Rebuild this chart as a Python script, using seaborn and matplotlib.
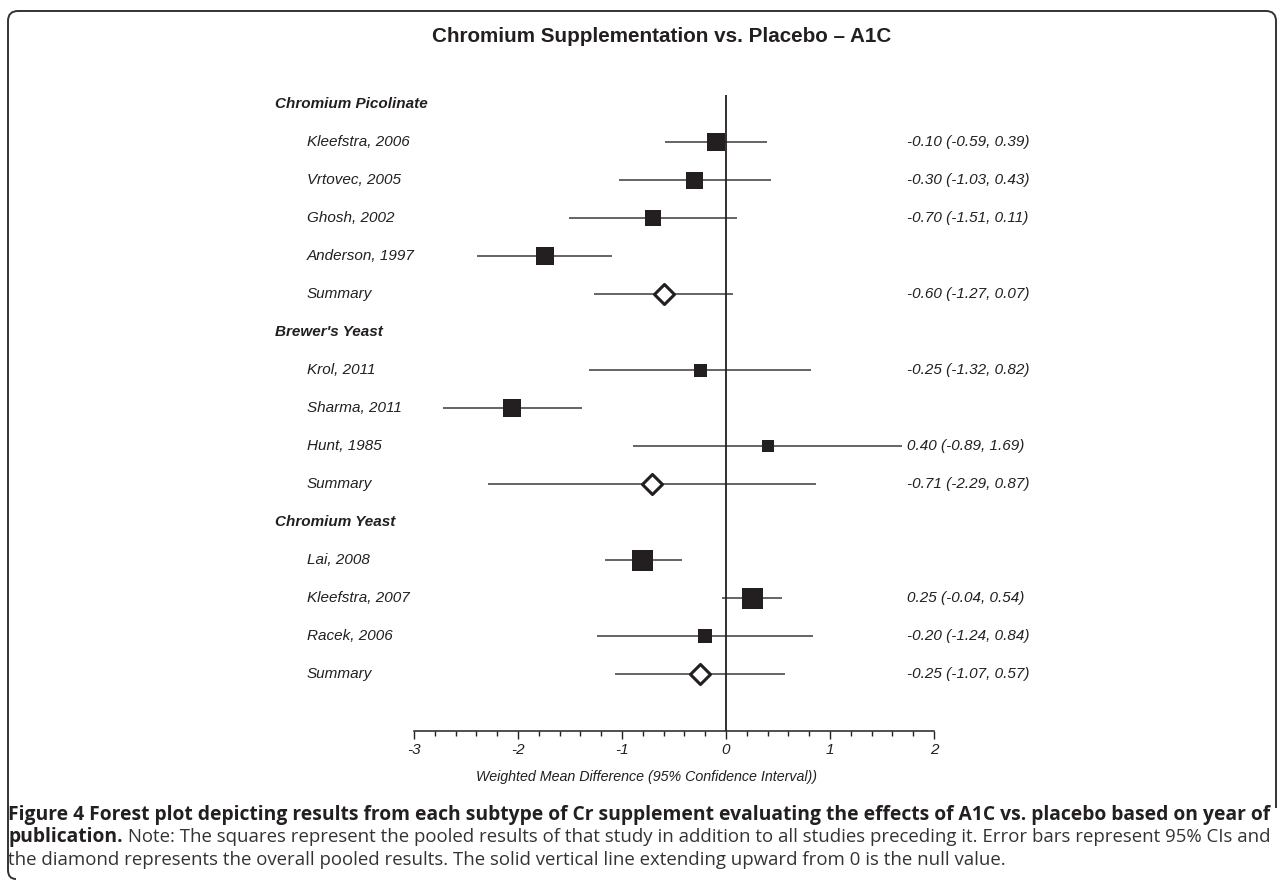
import numpy as np
import pandas as pd
import seaborn as sns
import matplotlib.pyplot as plt
from matplotlib import transforms
from matplotlib.path import Path
from matplotlib.patches import PathPatch
from matplotlib.ticker import MultipleLocator

# rows of the forest plot, top to bottom
row_labels = ["Chromium Picolinate", "Kleefstra, 2006", "Vrtovec, 2005", "Ghosh, 2002",
              "Anderson, 1997", "Summary", "Brewer's Yeast", "Krol, 2011", "Sharma, 2011",
              "Hunt, 1985", "Summary", "Chromium Yeast", "Lai, 2008", "Kleefstra, 2007",
              "Racek, 2006", "Summary"]
row_kind = ["group", "study", "study", "study", "study", "summary", "group", "study", "study",
            "study", "summary", "group", "study", "study", "study", "summary"]
estimate = [np.nan, -0.10, -0.30, -0.70, -1.74, -0.60, np.nan, -0.25, -2.06, 0.40, -0.71,
            np.nan, -0.80, 0.25, -0.20, -0.25]
ci_low = [np.nan, -0.59, -1.03, -1.51, -2.39, -1.27, np.nan, -1.32, -2.72, -0.89, -2.29,
          np.nan, -1.16, -0.04, -1.24, -1.07]
ci_high = [np.nan, 0.39, 0.43, 0.11, -1.10, 0.07, np.nan, 0.82, -1.38, 1.69, 0.87,
           np.nan, -0.42, 0.54, 0.84, 0.57]
# relative study weight (square side)
weight = [np.nan, 18, 17, 16, 18, np.nan, np.nan, 13, 18, 12, np.nan, np.nan, 21, 21, 14, np.nan]
value_text = ["", "-0.10 (-0.59, 0.39)", "-0.30 (-1.03, 0.43)", "-0.70 (-1.51, 0.11)", "",
              "-0.60 (-1.27, 0.07)", "", "-0.25 (-1.32, 0.82)", "", "0.40 (-0.89, 1.69)",
              "-0.71 (-2.29, 0.87)", "", "", "0.25 (-0.04, 0.54)", "-0.20 (-1.24, 0.84)",
              "-0.25 (-1.07, 0.57)"]

title = "Chromium Supplementation vs. Placebo \u2013 A1C"
x_label = "Weighted Mean Difference (95% Confidence Interval))"
cap_bold1 = ("Figure 4 Forest plot depicting results from each subtype of Cr supplement "
             "evaluating the effects of A1C vs. placebo based on year of")
cap_bold2 = "publication."
cap_rest2 = (" Note: The squares represent the pooled results of that study in addition to all "
             "studies preceding it. Error bars represent 95% CIs and")
cap_line3 = ("the diamond represents the overall pooled results. The solid vertical line "
             "extending upward from 0 is the null value.")

sns.set_theme(style="white")
plt.rcParams['font.family'] = ['Liberation Sans', 'DejaVu Sans']

W, H = 1281, 881
ink = '#231f20'
fig = plt.figure(figsize=(W / 100, H / 100), dpi=100)
ax = fig.add_axes([414 / W, 1 - 731 / H, 520 / W, (731 - 95) / H])

df = pd.DataFrame(dict(label=row_labels, kind=row_kind, est=estimate, lo=ci_low, hi=ci_high,
                       weight=weight, text=value_text))
df['row'] = np.arange(len(df))

ci = df.dropna(subset=['lo'])
ax.hlines(ci['row'], ci['lo'], ci['hi'], color='#3a3a3a', lw=1.1, zorder=1)
ax.axvline(0, color=ink, lw=1.3, zorder=2)

sq = df[df['kind'] == 'study']
sizes = {w: (w * 0.72) ** 2 for w in sq['weight']}
sns.scatterplot(data=sq, x='est', y='row', size='weight', sizes=sizes, marker='s',
                color=ink, edgecolor='none', linewidth=0, legend=False, ax=ax, zorder=3)

sm = df[df['kind'] == 'summary']
sns.scatterplot(data=sm, x='est', y='row', marker='D', s=104, color=ink, facecolor='white',
                edgecolor=ink, linewidth=2.2, legend=False, ax=ax, zorder=4)

ax.set_xlim(-3, 2)
ax.set_ylim(16.50, -0.237)
ax.set_xlabel('')
ax.set_ylabel('')
ax.set_yticks([])
for s in ['left', 'top', 'right']:
    ax.spines[s].set_visible(False)
ax.spines['bottom'].set_color(ink)
ax.spines['bottom'].set_linewidth(1.1)
ax.xaxis.set_major_locator(MultipleLocator(1))
ax.xaxis.set_minor_locator(MultipleLocator(0.2))
ax.tick_params(axis='x', which='major', direction='out', length=6, width=1, color=ink,
               pad=3, labelsize=11, labelcolor=ink, bottom=True)
ax.tick_params(axis='x', which='minor', direction='out', length=3.6, width=1, color=ink,
               bottom=True)
ax.set_xticks(range(-3, 3))
ax.set_xticklabels([str(v) for v in range(-3, 3)], style='italic')

trans = transforms.blended_transform_factory(fig.transFigure, ax.transData)
for r in df.itertuples():
    if r.kind == 'group':
        ax.text(275 / W, r.row, r.label, transform=trans, ha='left', va='center',
                style='italic', weight='bold', size=11, color=ink)
    else:
        ax.text(307 / W, r.row, r.label, transform=trans, ha='left', va='center',
                style='italic', size=11, color=ink)
    if r.text:
        ax.text(907 / W, r.row, r.text, transform=trans, ha='left', va='center',
                style='italic', size=11, color=ink)

fig.text(662 / W, 1 - 36 / H, title, ha='center', va='center', weight='bold', size=14.9, color=ink)
fig.text(646 / W, 1 - 777 / H, x_label, ha='center', va='center', style='italic', size=10.3,
         color=ink)

# caption, sized so the justified lines span the frame width
renderer = fig.canvas.get_renderer()
cap_font = ['Open Sans', 'DejaVu Sans']
x0, x1 = 8, 1268
t1 = fig.text(x0 / W, 1 - 815 / H, cap_bold1, ha='left', va='center', weight='bold',
              size=12, family=cap_font, color=ink)
w1 = t1.get_window_extent(renderer).width
t1.set_fontsize(12 * (x1 - x0) / w1)
t2 = fig.text(x0 / W, 1 - 837 / H, cap_bold2, ha='left', va='center', weight='bold',
              size=t1.get_fontsize(), family=cap_font, color=ink)
b2 = t2.get_window_extent(renderer)
t2b = fig.text(b2.x1 / W, 1 - 837 / H, cap_rest2, ha='left', va='center', size=12,
               family=cap_font, color='#333333')
w2 = t2b.get_window_extent(renderer).width
cap_size = 12 * (x1 - b2.x1) / w2
t2b.set_fontsize(cap_size)
fig.text(x0 / W, 1 - 860 / H, cap_line3, ha='left', va='center', size=cap_size,
         family=cap_font, color='#333333')

# rounded frame
def px(x, y):
    return (x / W, 1 - y / H)

verts = [px(1276, 808), px(1276, 21), px(1276, 11), px(1266, 11), px(18, 11), px(8, 11),
         px(8, 21), px(8, 870), px(8, 879), px(16, 879)]
codes = [Path.MOVETO, Path.LINETO, Path.CURVE3, Path.CURVE3, Path.LINETO, Path.CURVE3,
         Path.CURVE3, Path.LINETO, Path.CURVE3, Path.CURVE3]
fig.add_artist(PathPatch(Path(verts, codes), transform=fig.transFigure, fill=False,
                         edgecolor='#333333', lw=1.4))

fig.savefig('out.png', dpi=100)
